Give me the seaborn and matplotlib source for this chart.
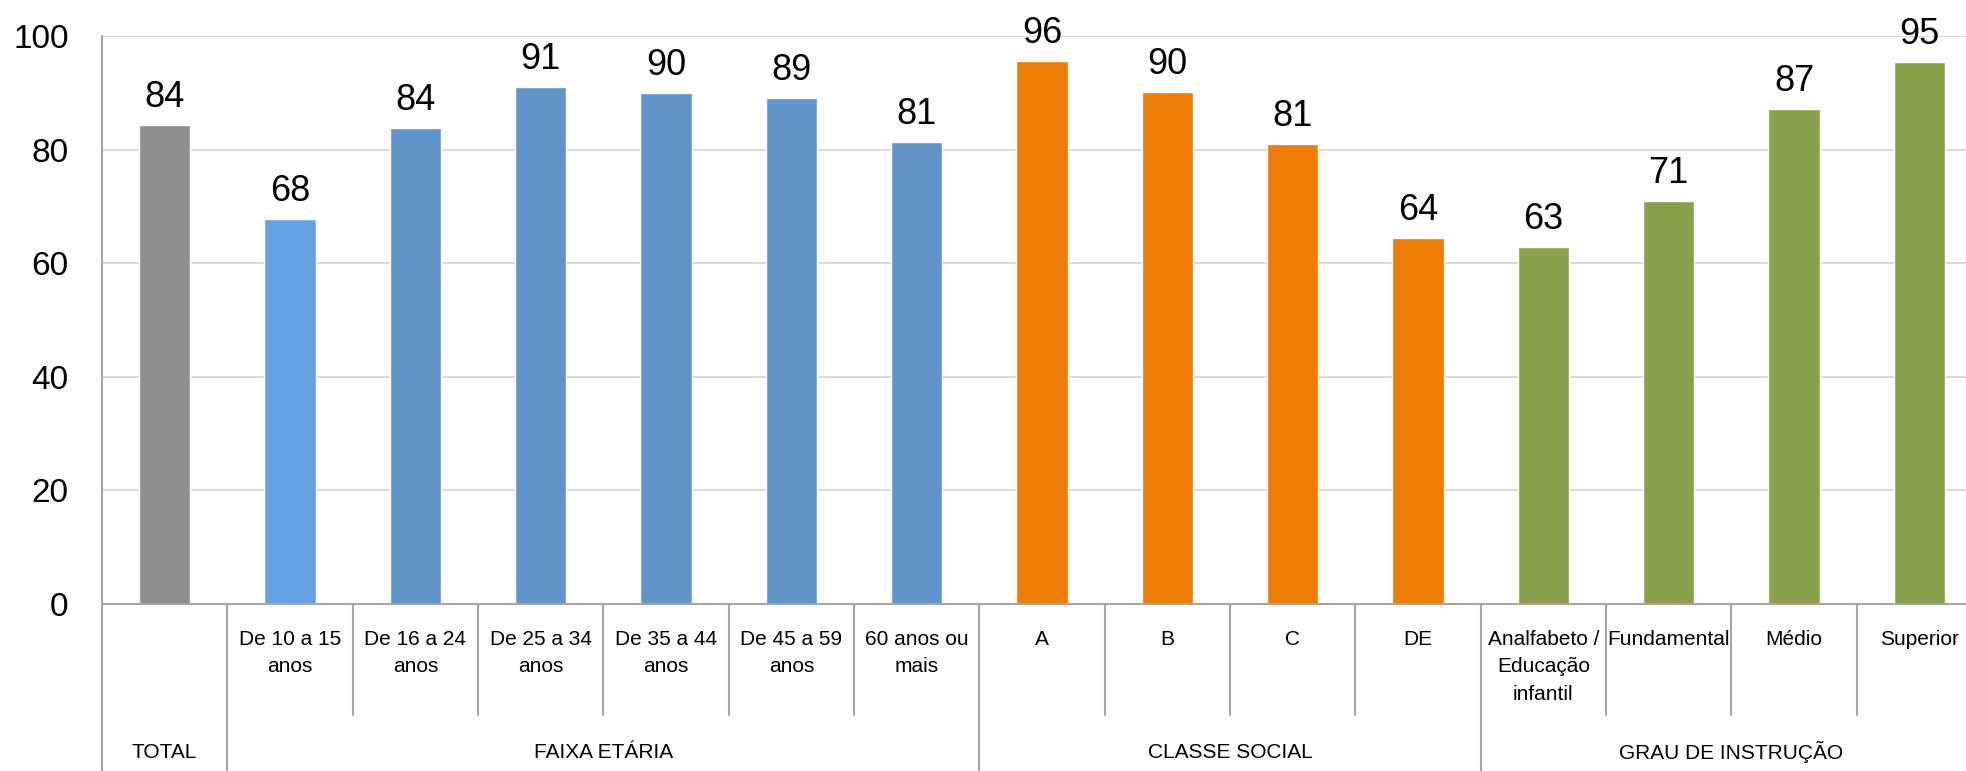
import matplotlib
matplotlib.use('Agg')
import matplotlib.pyplot as plt
import seaborn as sns
import pandas as pd

# chart data
groups = ['TOTAL', 'FAIXA ETÁRIA', 'CLASSE SOCIAL', 'GRAU DE INSTRUÇÃO']
group_sizes = [1, 6, 4, 4]
sub_labels = ['', 'De 10 a 15\nanos', 'De 16 a 24\nanos', 'De 25 a 34\nanos',
              'De 35 a 44\nanos', 'De 45 a 59\nanos', '60 anos ou\nmais',
              'A', 'B', 'C', 'DE',
              'Analfabeto /\nEducação\ninfantil', 'Fundamental', 'Médio', 'Superior']
values = [84.3, 67.8, 83.8, 91.0, 90.0, 89.1, 81.3, 95.6, 90.2, 81.0,
          64.4, 62.8, 71.0, 87.2, 95.4]
bar_colors = ['#8f8f8f', '#64a3df', '#6195c9', '#6195c9', '#6195c9', '#6195c9',
              '#6195c9', '#ed7d06', '#ed7d06', '#ed7d06', '#ed7d06',
              '#8aa14b', '#8aa14b', '#8aa14b', '#8aa14b']

sns.set_style('white')
plt.rcParams['font.family'] = ['Liberation Sans', 'DejaVu Sans']
plt.rcParams['text.color'] = 'black'
plt.rcParams['ytick.labelcolor'] = 'black'

keys = [f'c{i}' for i in range(len(values))]
df = pd.DataFrame({'key': keys, 'value': values})

fig = plt.figure(figsize=(19.66, 7.71), dpi=100)
ax = fig.add_axes([102 / 1966, (771 - 604) / 771, 1880 / 1966, 568 / 771])

sns.barplot(data=df, x='key', y='value', hue='key', order=keys,
            palette=dict(zip(keys, bar_colors)), saturation=1, width=0.41,
            legend=False, ax=ax)

ax.set_xlim(-0.5, len(values) - 0.5)
ax.set_ylim(0, 100)
ax.set_yticks(range(0, 101, 20))
ax.set_xticks(range(len(values)))
ax.set_xticklabels([])
ax.set_xlabel('')
ax.set_ylabel('')
ax.yaxis.grid(True, color='#d9d9d9', lw=1.4)
ax.set_axisbelow(True)
ax.tick_params(axis='x', length=0)
ax.tick_params(axis='y', length=8, width=1.4, color='#a6a6a6', pad=16,
               labelsize=24, labelcolor='black')
for s in ['top', 'right']:
    ax.spines[s].set_visible(False)
for s in ['left', 'bottom']:
    ax.spines[s].set_color('#a6a6a6')
    ax.spines[s].set_linewidth(1.5)

# value labels
for i, v in enumerate(values):
    ax.annotate(f'{round(v)}', (i, v), xytext=(0, 13), textcoords='offset points',
                ha='center', va='baseline', fontsize=26, color='black')

# category table under the axis
trans = ax.get_xaxis_transform()
outer = [-0.5]
pos = -0.5
for n in group_sizes:
    pos += n
    outer.append(pos)
for k in range(len(values) + 1):
    b = k - 0.5
    y_end = -0.32 if b in outer else -0.195
    ax.plot([b, b], [0, y_end], transform=trans, color='#a6a6a6', lw=1.5,
            clip_on=False)

for i, lab in enumerate(sub_labels):
    ax.text(i, -0.046, lab, transform=trans, ha='center', va='top',
            fontsize=15, linespacing=1.55, color='black')

start = 0
for g, n in zip(groups, group_sizes):
    ax.text(start + (n - 1) / 2, -0.2606, g, transform=trans, ha='center',
            va='center', fontsize=15, color='black')
    start += n

fig.savefig('out.png', dpi=100)
